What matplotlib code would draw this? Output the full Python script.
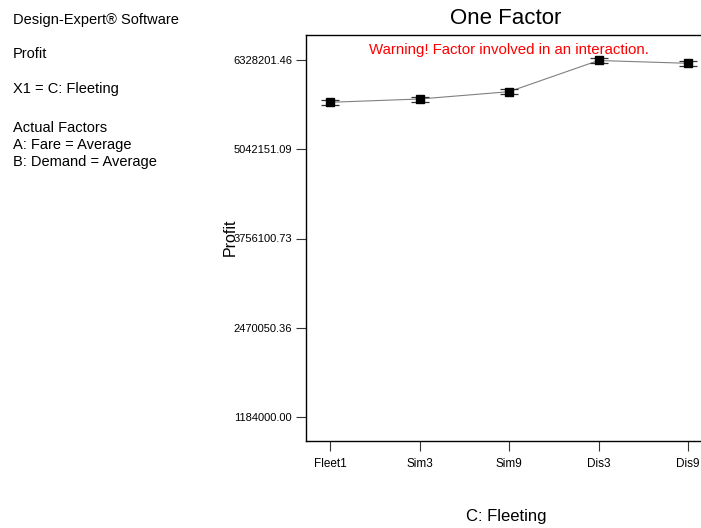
import matplotlib
matplotlib.use("Agg")
import matplotlib.pyplot as plt

categories = ["Fleet1", "Sim3", "Sim9", "Dis3", "Dis9"]
profit = [5718700, 5766200, 5871400, 6321000, 6280600]
err = [36000, 36000, 36000, 36000, 36000]
yticks = [1184000.00, 2470050.36, 3756100.73, 5042151.09, 6328201.46]
ytick_labels = ["1184000.00", "2470050.36", "3756100.73", "5042151.09", "6328201.46"]

plt.rcParams['font.family'] = ['Liberation Sans', 'DejaVu Sans']

fig = plt.figure(figsize=(7.01, 5.28), dpi=100)
W, H = 701, 528
left, right, top, bottom = 306, 712, 35, 441
ax = fig.add_axes([left / W, 1 - bottom / H, (right - left) / W, (bottom - top) / H])

x = list(range(len(categories)))
ax.plot(x, profit, color="#808080", lw=0.8, zorder=2)
ax.errorbar(x, profit, yerr=err, fmt="none", ecolor="#333333", elinewidth=0.8,
            capsize=6.5, capthick=0.9, zorder=3)
ax.plot(x, profit, "s", color="black", markersize=5.5, zorder=4)

step = (yticks[-1] - yticks[0]) / (417 - 60)
ax.set_ylim(yticks[0] - 24 * step, yticks[-1] + 25 * step)
ax.set_xlim(-24 / 89.5, 4 + 24 / 89.5)
ax.set_yticks(yticks)
ax.set_yticklabels(ytick_labels, fontsize=8)
ax.set_xticks(x)
ax.set_xticklabels(categories, fontsize=8.5)
ax.tick_params(axis='both', length=7, width=0.8, color="#333333", pad=3)
ax.tick_params(axis='x', pad=5)
for s in ax.spines.values():
    s.set_linewidth(1.0)
ax.spines['right'].set_visible(False)

fig.text(506 / W, 1 - 19 / H, "One Factor", fontsize=16, ha="center", va="center")
fig.text(509 / W, 1 - 50 / H, "Warning! Factor involved in an interaction.", color="red",
         fontsize=10.8, ha="center", va="center")

fig.text(230 / W, 1 - 237 / H, "Profit", rotation=90, fontsize=11.5, ha="center", va="center")
fig.text(506 / W, 1 - 517 / H, "C: Fleeting", fontsize=12, ha="center", va="center")

side = [("Design-Expert® Software", 20), ("Profit", 54), ("X1 = C: Fleeting", 89),
        ("Actual Factors", 128), ("A: Fare = Average", 145), ("B: Demand = Average", 162)]
for t, yy in side:
    fig.text(13 / W, 1 - yy / H, t, fontsize=10.5, ha="left", va="center")

fig.savefig("out.png", dpi=100)
